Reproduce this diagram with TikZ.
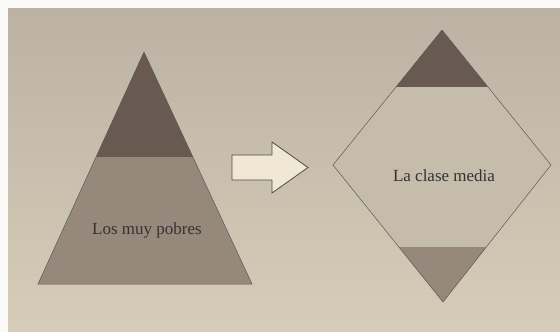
\documentclass[tikz,border=0pt]{standalone}
\usepackage{fontspec}
\setmainfont{Liberation Serif}
\usepackage{xcolor}
\usetikzlibrary{positioning,calc}

\definecolor{papelarriba}{RGB}{188,178,164}
\definecolor{papelabajo}{RGB}{214,204,184}
\definecolor{capaalta}{RGB}{104,90,80}
\definecolor{capabaja}{RGB}{150,137,124}
\definecolor{capamedia}{RGB}{198,188,172}
\definecolor{flechafondo}{RGB}{240,232,212}

\begin{document}
\begin{tikzpicture}[
    x=1pt, y=-1pt,
    borde/.style={draw=black!65, line width=0.5pt, line join=miter},
    etiqueta/.style={font=\fontsize{17}{19}\selectfont, text=black!80, inner sep=0pt},
    flecha/.style={draw=black!70, fill=flechafondo, line width=0.8pt}
]
    \useasboundingbox (0,0) rectangle (560,332);
    \fill [white!92!papelarriba] (0,0) rectangle (560,332);
    \shade [top color=papelarriba, bottom color=papelabajo] (8,8) rectangle (560,332);

    % piramide
    \coordinate (pa) at (144,52);
    \coordinate (pl) at (38,284);
    \coordinate (pr) at (252,284);
    \coordinate (ml) at ($(pa)!0.4526!(pl)$);
    \coordinate (mr) at ($(pa)!0.4526!(pr)$);
    \fill [capaalta] (pa) -- (ml) -- (mr) -- cycle;
    \fill [capabaja] (ml) -- (pl) -- (pr) -- (mr) -- cycle;
    \draw [borde] (pa) -- (pl) -- (pr) -- cycle;
    \node [etiqueta] (pobres) at (147,230) {Los muy pobres};

    % flecha
    \draw [flecha] (232,155) -- (272,155) -- (272,142) -- (308,167.5)
        -- (272,193) -- (272,180) -- (232,180) -- cycle;

    % rombo
    \coordinate (rt) at (442,30);
    \coordinate (rl) at (333,165);
    \coordinate (rr) at (551,165);
    \coordinate (rb) at (443,302);
    \coordinate (tl) at ($(rt)!0.422!(rl)$);
    \coordinate (tr) at ($(rt)!0.422!(rr)$);
    \coordinate (bl) at ($(rb)!0.40!(rl)$);
    \coordinate (br) at ($(rb)!0.40!(rr)$);
    \fill [capamedia] (rt) -- (rl) -- (rb) -- (rr) -- cycle;
    \fill [capaalta] (rt) -- (tl) -- (tr) -- cycle;
    \fill [capabaja] (rb) -- (bl) -- (br) -- cycle;
    \draw [borde] (rt) -- (rl) -- (rb) -- (rr) -- cycle;
    \node [etiqueta] (media) at (444,176) {La clase media};
\end{tikzpicture}
\end{document}
